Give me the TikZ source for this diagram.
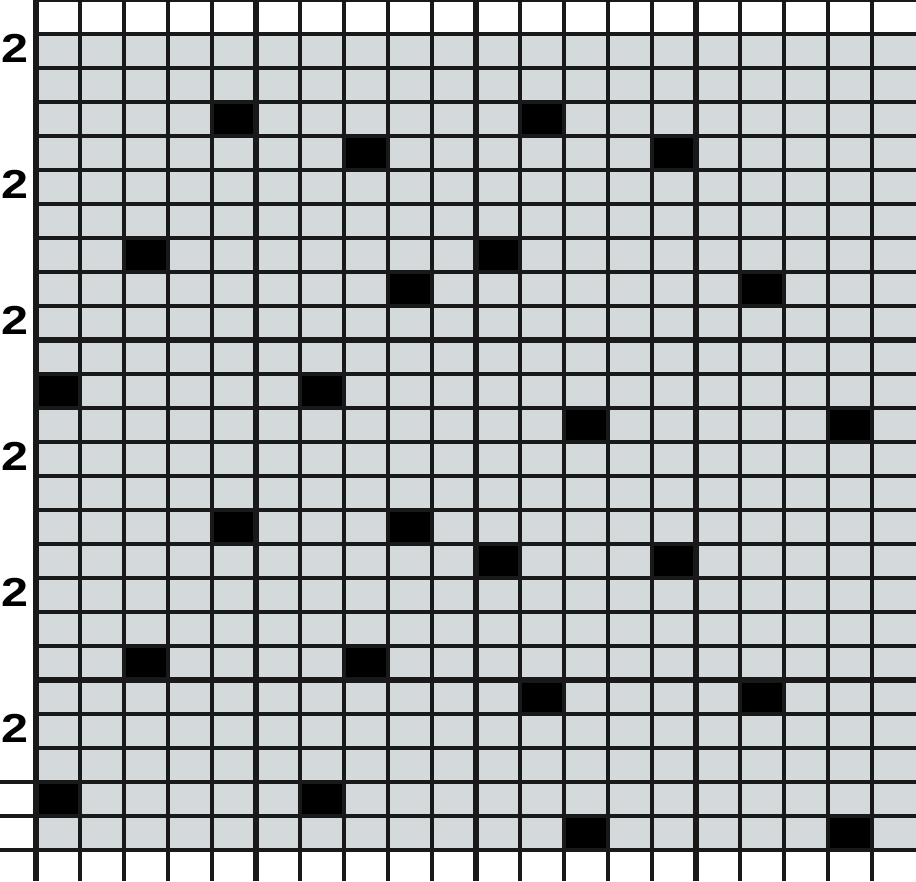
\documentclass[tikz,border=0pt]{standalone}
\usepackage{fontspec}
\setsansfont{Liberation Sans}
\usepackage{xcolor}
\definecolor{chartgray}{RGB}{212,217,219}
\definecolor{gridink}{RGB}{25,25,25}

\begin{document}
\begin{tikzpicture}[x=0.44cm, y=-0.34cm,
  gridline/.style={draw=gridink, line width=1pt},
  heavyline/.style={draw=gridink, line width=1.5pt},
  stitch/.style={fill=black},
  rowlabel/.style={font=\sffamily\bfseries\fontsize{11.5}{11.5}\selectfont,
    xscale=1.2, inner sep=0pt}
]
  \useasboundingbox (-0.818,0) rectangle (20,25.912);
  % paper and chart area
  \fill[white] (-0.818,0) rectangle (20,25.912);
  \fill[chartgray] (0,1) rectangle (20,25);

  % black squares (column/row)
  \foreach \c/\r in {4/3, 11/3, 7/4, 14/4, 2/7, 10/7, 8/8, 16/8,
                     0/11, 6/11, 12/12, 18/12, 4/15, 8/15, 10/16, 14/16,
                     2/19, 7/19, 11/20, 16/20, 0/23, 6/23, 12/24, 18/24}
    \fill[stitch] (\c,\r) rectangle ++(1,1);

  % grid
  \foreach \c in {1,...,19}
    \draw[gridline] (\c,0) -- (\c,25.912);
  \foreach \r in {0,...,25}
    \draw[gridline] (0,\r) -- (20,\r);
  \foreach \r in {23,24,25}
    \draw[gridline] (-0.818,\r) -- (0,\r);
  \foreach \c in {0,5,10,15}
    \draw[heavyline] (\c,0) -- (\c,25.912);
  \foreach \r in {10,20}
    \draw[heavyline] (0,\r) -- (20,\r);

  % row numbers
  \foreach \r in {1,5,...,21}
    \node[rowlabel] (lbl\r) at (-0.48,\r+0.42) {2};
\end{tikzpicture}
\end{document}
